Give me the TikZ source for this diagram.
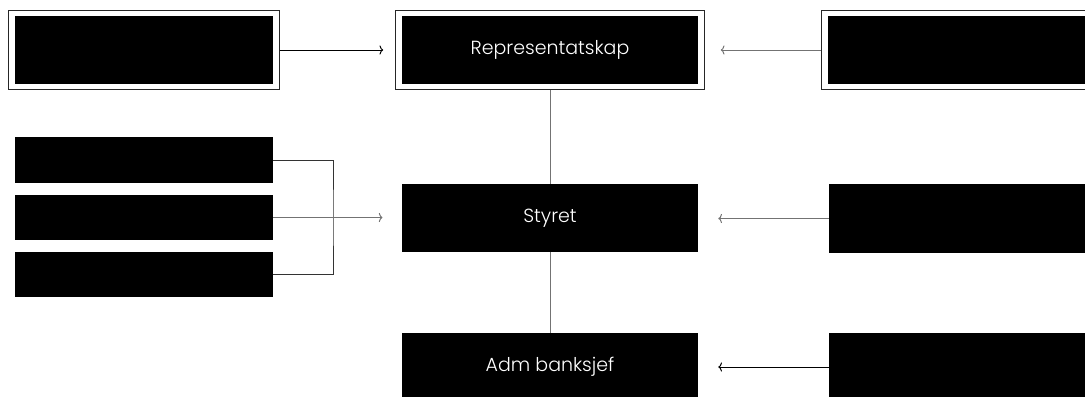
\documentclass[tikz,border=0pt]{standalone}
\usepackage{fontspec}
\setmainfont{Poppins}[UprightFont=* Light]
\usepackage{tikz}
\usepackage{xcolor}
\usetikzlibrary{fit, arrows.meta}
\definecolor{linegray}{gray}{0.45}
\tikzstyle{box} = [fill = black, text = white, inner sep = 0pt, minimum width = 7.4cm, minimum height = 1.7cm, font = \fontsize{13.5}{16}\selectfont]
\tikzstyle{sidebox} = [fill = black, inner sep = 0pt, minimum width = 6.45cm, minimum height = 1.7cm]
\tikzstyle{smallbox} = [fill = black, inner sep = 0pt, minimum width = 6.45cm, minimum height = 1.125cm]
\tikzstyle{frame} = [draw = black!85, line width = 0.7pt, inner xsep = 0.15cm, inner ysep = 0.14cm]

\begin{document}
\begin{tikzpicture}[x = 0.025cm, y = -0.025cm, > = {To[width = 6.5pt, length = 2.6pt]}]
            \useasboundingbox (0, 0) rectangle (1085, 396);
            % center column
            \node (rep) at (550, 50) [box] {Representatskap};
            \node (sty) at (550, 218) [box] {Styret};
            \node (adm) at (550, 367) [box] {Adm banksjef};
            \node (repf) [frame, fit = (rep)] {};
            % top row
            \node (tl) at (144, 50) [sidebox] {};
            \node (tlf) [frame, fit = (tl)] {};
            \node (tr) at (957, 50) [sidebox] {};
            \node (trf) [frame, fit = (tr)] {};
            % left stack
            \node (l1) at (144, 160) [smallbox] {};
            \node (l2) at (144, 217.5) [smallbox] {};
            \node (l3) at (144, 274.5) [smallbox] {};
            % right column
            \node (r1) at (958, 218.5) [sidebox] {};
            \node (r2) at (958, 367) [sidebox] {};
            \coordinate (jn) at (333, 218);
            \draw [->, line width = 0.7pt, shorten > = 0.3cm] (tlf.east) -- (repf.west |- tlf.east);
            \draw [->, line width = 0.7pt, draw = linegray, shorten > = 0.4cm] (trf.west) -- (repf.east |- trf.west);
            \draw [line width = 0.7pt, draw = linegray] (repf.south) -- (sty.north);
            \draw [line width = 0.7pt, draw = linegray] (sty.south) -- (adm.north);
            \draw [line width = 0.7pt, draw = black!80] (l1.east) -| (jn) |- (l3.east);
            \draw [->, line width = 0.7pt, draw = linegray, shorten > = 0.48cm] (l2.east) -- (sty.west |- l2.east);
            \draw [->, line width = 0.7pt, draw = linegray, shorten > = 0.5cm] (r1.west) -- (sty.east |- r1.west);
            \draw [->, line width = 0.7pt, shorten > = 0.5cm] (r2.west) -- (adm.east);
        \end{tikzpicture}
\end{document}
